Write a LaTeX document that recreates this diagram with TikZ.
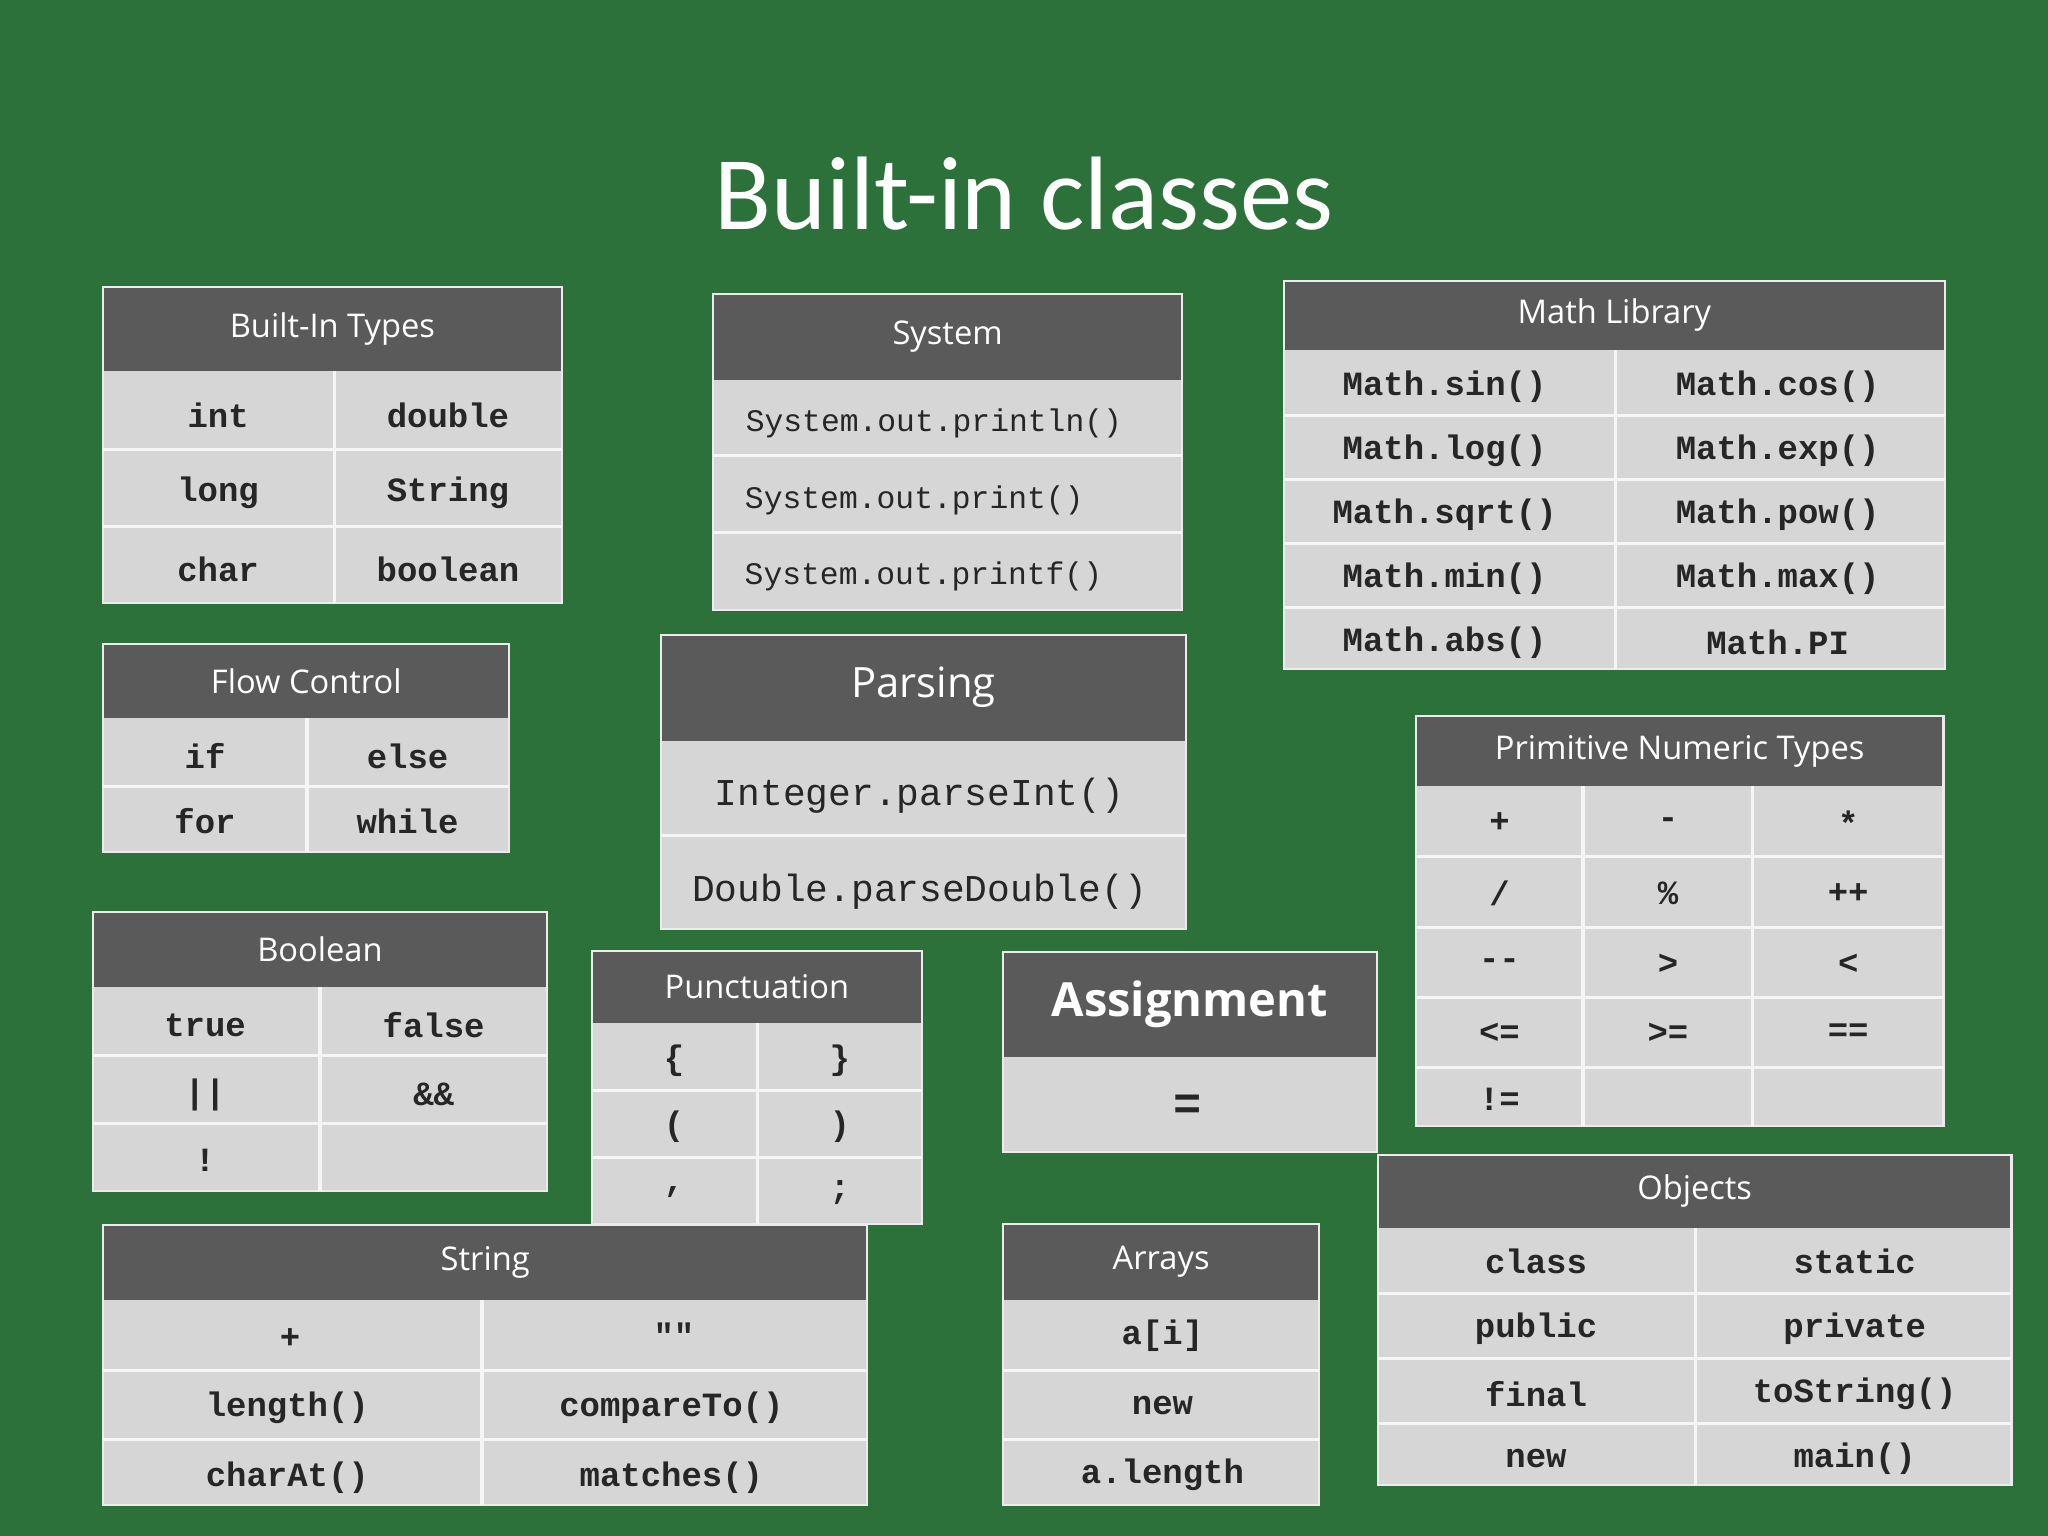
\documentclass[tikz,border=0pt]{standalone}
\usepackage{fontspec}
\setmainfont{Carlito}
\newfontfamily\hfont{Open Sans}
\newfontfamily\mfont{Liberation Mono}
\definecolor{bg}{HTML}{2D713A}
\definecolor{hdr}{HTML}{5A5A5A}
\definecolor{cellc}{HTML}{D6D6D6}
\tikzset{
 hdrtext/.style={text=white,font=\hfont\fontsize{12.5}{14}\selectfont},
 celltext/.style={text=black!85,font=\mfont\bfseries\fontsize{13}{15}\selectfont},
 sep/.style={draw=white!92!gray,line width=1.2pt},
}
\newcommand\tframe[7]{%
 \fill[hdr] (#2,#4) rectangle (#3,#5);
 \fill[cellc] (#2,#5) rectangle (#3,#6);
 \draw[white!85!gray,line width=0.8pt] (#2,#4) rectangle (#3,#6);
 \node[hdrtext] (#1) at ({(#2+#3)/2},{(#4+#5)/2}) {#7};
}
\newcommand\cell[4]{\node[celltext] (#1) at (#2,#3) {#4};}
\begin{document}
\begin{tikzpicture}[x=0.5pt,y=-0.5pt]
\fill[bg] (0,0) rectangle (1568,1176);
\node[text=white,font=\fontsize{40}{44}\selectfont] (title) at (784,148) {Built-in classes};
% Built-In Types
\tframe{bit}{79}{430}{220}{284}{462}{Built-In Types}
\foreach \y in {344,403} \draw[sep] (79,\y)--(430,\y);
\draw[sep] (256,284)--(256,462);
\cell{b1}{167}{318}{int}\cell{b2}{343}{318}{double}
\cell{b3}{167}{377}{long}\cell{b4}{343}{377}{String}
\cell{b5}{167}{436}{char}\cell{b6}{343}{436}{boolean}
% System
\tframe{sys}{546}{905}{225}{291}{467}{System}
\foreach \y in {349,408} \draw[sep] (546,\y)--(905,\y);
\begin{scope}[celltext/.append style={font=\mfont\fontsize{12}{14}\selectfont}]
\cell{s1}{715}{324}{System.out.println()}
\cell{s2}{700}{383}{System.out.print()}
\cell{s3}{707}{441}{System.out.printf()}
\end{scope}
% Math Library
\tframe{math}{983}{1489}{215}{268}{512}{Math Library}
\foreach \y in {318,367,416,465} \draw[sep] (983,\y)--(1489,\y);
\draw[sep] (1237,268)--(1237,512);
\cell{m1}{1106}{296}{Math.sin()}\cell{m2}{1361}{296}{Math.cos()}
\cell{m3}{1106}{345}{Math.log()}\cell{m4}{1361}{345}{Math.exp()}
\cell{m5}{1106}{394}{Math.sqrt()}\cell{m6}{1361}{394}{Math.pow()}
\cell{m7}{1106}{443}{Math.min()}\cell{m8}{1361}{443}{Math.max()}
\cell{m9}{1106}{492}{Math.abs()}\cell{m10}{1361}{492}{Math.PI}
% Flow Control
\tframe{flow}{79}{390}{493}{550}{652}{Flow Control}
\draw[sep] (79,602)--(390,602); \draw[sep] (235,550)--(235,652);
\cell{f1}{157}{579}{if}\cell{f2}{312}{579}{else}
\cell{f3}{157}{629}{for}\cell{f4}{312}{629}{while}
% Parsing
\begin{scope}[hdrtext/.append style={font=\hfont\fontsize{16}{18}\selectfont}]
\tframe{pars}{506}{908}{486}{567}{711}{Parsing}
\end{scope}
\draw[sep] (506,640)--(908,640);
\begin{scope}[celltext/.append style={font=\mfont\fontsize{14.5}{17}\selectfont}]
\cell{p1}{704}{609}{Integer.parseInt()}
\cell{p2}{704}{683}{Double.parseDouble()}
\end{scope}
% Primitive Numeric Types
\tframe{prim}{1084}{1488}{548}{602}{862}{Primitive Numeric Types}
\foreach \y in {656,710,764,817} \draw[sep] (1084,\y)--(1488,\y);
\foreach \x in {1212,1342} \draw[sep] (\x,602)--(\x,862);
\cell{n1}{1148}{630}{+}\cell{n2}{1277}{630}{-}\cell{n3}{1415}{630}{*}
\cell{n4}{1148}{684}{/}\cell{n5}{1277}{684}{\%}\cell{n6}{1415}{684}{++}
\cell{n7}{1148}{738}{--}\cell{n8}{1277}{738}{>}\cell{n9}{1415}{738}{<}
\cell{n10}{1148}{791}{<=}\cell{n11}{1277}{791}{>=}\cell{n12}{1415}{791}{==}
\cell{n13}{1148}{842}{!=}
% Boolean
\tframe{bool}{71}{419}{698}{756}{912}{Boolean}
\foreach \y in {808,860} \draw[sep] (71,\y)--(419,\y);
\draw[sep] (245,756)--(245,912);
\cell{o1}{157}{785}{true}\cell{o2}{332}{785}{false}
\cell{o3}{157}{838}{||}\cell{o4}{332}{838}{\&\&}
\cell{o5}{157}{888}{!}
% Punctuation
\tframe{punc}{453}{706}{728}{783}{937}{Punctuation}
\foreach \y in {835,886} \draw[sep] (453,\y)--(706,\y);
\draw[sep] (580,783)--(580,937);
\cell{u1}{516}{812}{\{}\cell{u2}{643}{812}{\}}
\cell{u3}{516}{863}{(}\cell{u4}{643}{863}{)}
\cell{u5}{516}{913}{,}\cell{u6}{643}{913}{;}
% Assignment
\begin{scope}[hdrtext/.append style={font=\hfont\bfseries\fontsize{18}{20}\selectfont}]
\tframe{asg}{768}{1054}{729}{809}{882}{Assignment}
\end{scope}
\begin{scope}[celltext/.append style={font=\mfont\bfseries\fontsize{18}{20}\selectfont}]
\cell{a1}{909}{848}{=}
\end{scope}
% String
\tframe{str}{79}{664}{938}{995}{1152}{String}
\foreach \y in {1049,1102} \draw[sep] (79,\y)--(664,\y);
\draw[sep] (369,995)--(369,1152);
\cell{t1}{222}{1025}{+}\cell{t2}{516}{1022}{""}
\cell{t3}{220}{1078}{length()}\cell{t4}{514}{1078}{compareTo()}
\cell{t5}{220}{1131}{charAt()}\cell{t6}{514}{1131}{matches()}
% Arrays
\tframe{arr}{768}{1010}{937}{995}{1152}{Arrays}
\foreach \y in {1049,1102} \draw[sep] (768,\y)--(1010,\y);
\cell{r1}{890}{1023}{a[i]}\cell{r2}{890}{1076}{new}\cell{r3}{890}{1129}{a.length}
% Objects
\tframe{obj}{1055}{1540}{884}{940}{1137}{Objects}
\foreach \y in {990,1040,1090} \draw[sep] (1055,\y)--(1540,\y);
\draw[sep] (1298,940)--(1298,1137);
\cell{j1}{1176}{966}{class}\cell{j2}{1420}{966}{static}
\cell{j3}{1176}{1017}{public}\cell{j4}{1420}{1017}{private}
\cell{j5}{1176}{1067}{final}\cell{j6}{1420}{1067}{toString()}
\cell{j7}{1176}{1117}{new}\cell{j8}{1420}{1117}{main()}
\end{tikzpicture}
\end{document}
